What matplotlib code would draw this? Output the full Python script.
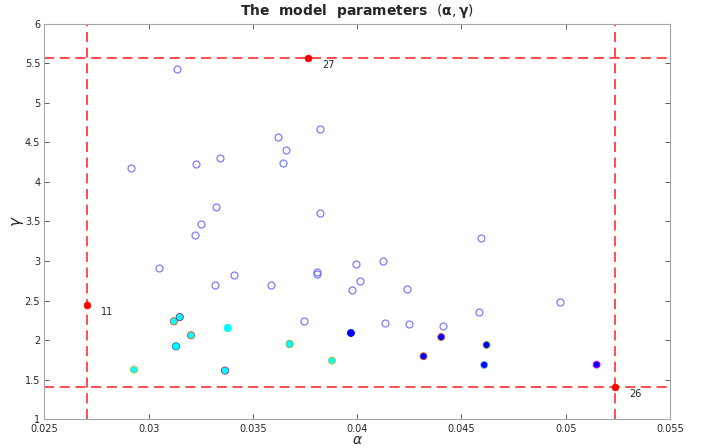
import matplotlib
matplotlib.use("Agg")
import matplotlib.pyplot as plt
import numpy as np

# Parameter estimates (alpha, gamma), grouped by class
open_alpha = [0.03136, 0.02915, 0.03228, 0.03343, 0.03323,
              0.03251, 0.03222, 0.03051, 0.03409, 0.03318,
              0.03821, 0.03621, 0.03657, 0.03642, 0.03821,
              0.03585, 0.03805, 0.03808, 0.03992, 0.04123, 0.04014,
              0.03976, 0.04240, 0.03745, 0.04134, 0.04248, 0.04411,
              0.04594, 0.04585, 0.04973]
open_gamma = [5.432, 4.178, 4.228, 4.307, 3.681,
              3.467, 3.325, 2.913, 2.821, 2.699,
              4.669, 4.563, 4.404, 4.244, 3.606,
              2.695, 2.859, 2.830, 2.968, 2.997, 2.754,
              2.636, 2.649, 2.242, 2.220, 2.208, 2.175,
              3.291, 2.351, 2.477]

cyan_alpha = [0.03121, 0.03149, 0.03203, 0.03379, 0.03131,
              0.02930, 0.03366, 0.03676, 0.03879]
cyan_gamma = [2.238, 2.292, 2.062, 2.154, 1.923,
              1.628, 1.616, 1.952, 1.742]
cyan_edges = ["#d95319", "#7e2f8e", "#d95319", "#00ffff", "#0072bd",
              "#edb120", "#7e2f8e", "#77ac30", "#edb120"]

blue_alpha = [0.03970, 0.04403, 0.04318, 0.04620, 0.04609, 0.05148]
blue_gamma = [2.091, 2.040, 1.797, 1.940, 1.688, 1.691]
blue_edges = ["#0000ff", "#d95319", "#d95319", "#77ac30", "#4dbeee", "#ff00ff"]

red_alpha = [0.02703, 0.03765, 0.05237]
red_gamma = [2.440, 5.563, 1.407]
red_ids = ["11", "27", "26"]

all_alpha = open_alpha + cyan_alpha + blue_alpha + red_alpha
all_gamma = open_gamma + cyan_gamma + blue_gamma + red_gamma

fig = plt.figure(figsize=(7.10, 4.48), dpi=100)
ax = fig.add_axes([0.0625, 0.064, 0.8812, 0.8833])

# Bounding box of all estimates
line_kw = dict(color="#ff3333", alpha=0.85, lw=1.45, dashes=(5, 2.8), zorder=1)
ax.axvline(min(all_alpha), **line_kw)
ax.axvline(max(all_alpha), **line_kw)
ax.axhline(max(all_gamma), **line_kw)
ax.axhline(min(all_gamma), **line_kw)

ax.plot(open_alpha, open_gamma, "o", ls="none", ms=5.0, mfc="none",
        mec="#7676ff", mew=0.85, zorder=3)
ax.scatter(cyan_alpha, cyan_gamma, s=27, c="#00ffff", edgecolors=cyan_edges,
           linewidths=0.6, zorder=4)
ax.scatter(blue_alpha, blue_gamma, s=25, c="#0000ff", edgecolors=blue_edges,
           linewidths=0.6, zorder=4)
ax.scatter(red_alpha, red_gamma, s=24, c="#ff0000", edgecolors="#ff0000",
           linewidths=0.5, zorder=5)
for a, g, t in zip(red_alpha, red_gamma, red_ids):
    ax.annotate(t, (a, g), xytext=(10, -5), textcoords="offset points",
                fontsize=7, color="#262626", va="center", ha="left")

ax.set_xlim(0.025, 0.055)
ax.set_ylim(1, 6)
ax.set_xticks(np.arange(0.025, 0.0551, 0.005))
ax.set_xticklabels(["0.025", "0.03", "0.035", "0.04", "0.045", "0.05", "0.055"])
ax.set_yticks(np.arange(1, 6.01, 0.5))
ax.set_yticklabels(["1", "1.5", "2", "2.5", "3", "3.5", "4", "4.5", "5", "5.5", "6"])
ax.tick_params(direction="in", length=3.5, width=0.6, colors="#404040",
               labelsize=7, labelcolor="#262626", top=True, right=True, pad=3)
ax.tick_params(axis="x", pad=3.5)
for sp in ax.spines.values():
    sp.set_color("#a6a6a6")
    sp.set_linewidth(0.8)

ax.set_xlabel(r"$\alpha$", fontsize=10, color="#262626", labelpad=-1)
ax.set_ylabel(r"$\gamma$", fontsize=11, color="#262626", labelpad=-1)
ax.set_title(r"The  model  parameters  $(\mathbf{\alpha},\mathbf{\gamma})$",
             fontsize=10, fontweight="bold", color="#262626", pad=6)

fig.savefig("out.png", dpi=100)
